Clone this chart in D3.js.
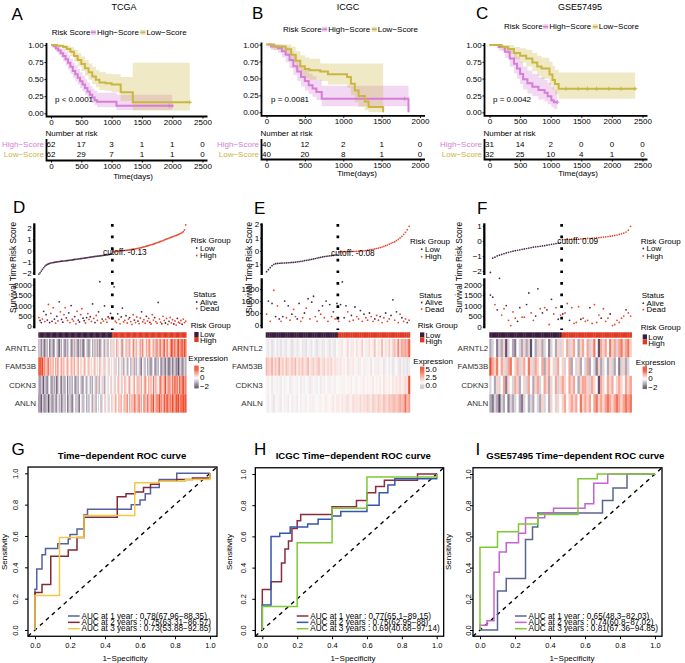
<!DOCTYPE html>
<html><head><meta charset="utf-8">
<script src="https://cdn.jsdelivr.net/npm/d3@7"></script>
<style>
html,body{margin:0;padding:0;background:#fff;}
svg{display:block;}
</style></head>
<body>
<svg id="fig" width="685" height="663" xmlns="http://www.w3.org/2000/svg"></svg>
<script>
// ======================= DATA =======================
// Kaplan-Meier: [time (days), survival, lower 95% CI, upper 95% CI]
const tcgaHighKM = [[0,1,1,1],[40,0.98,0.95,1],[80,0.95,0.9,1],[120,0.92,0.86,0.98],[160,0.88,0.81,0.95],[200,0.84,0.76,0.93],[240,0.79,0.7,0.89],[280,0.74,0.64,0.85],[320,0.68,0.58,0.8],[360,0.62,0.52,0.74],[400,0.57,0.47,0.7],[440,0.52,0.42,0.65],[480,0.47,0.37,0.6],[520,0.42,0.32,0.55],[560,0.37,0.27,0.5],[600,0.32,0.22,0.45],[640,0.27,0.18,0.4],[680,0.23,0.15,0.36],[720,0.19,0.12,0.33],[760,0.17,0.09,0.3],[1080,0.11,0.05,0.27],[2000,0.11,0.05,0.27]];
const tcgaLowKM = [[0,1,1,1],[100,0.99,0.97,1],[200,0.97,0.93,1],[260,0.94,0.89,0.99],[320,0.9,0.84,0.97],[380,0.84,0.76,0.93],[440,0.78,0.69,0.88],[500,0.72,0.62,0.83],[560,0.66,0.55,0.78],[620,0.6,0.49,0.73],[680,0.54,0.43,0.68],[740,0.49,0.38,0.63],[800,0.45,0.34,0.6],[900,0.44,0.33,0.58],[1000,0.42,0.31,0.57],[1150,0.31,0.18,0.53],[1350,0.16,0.04,0.74],[2290,0.16,0.04,0.74]];
const icgcHighKM = [[0,1,1,1],[60,0.97,0.92,1],[150,0.95,0.88,1],[200,0.9,0.81,0.99],[250,0.85,0.74,0.96],[300,0.77,0.65,0.9],[350,0.68,0.55,0.83],[400,0.6,0.46,0.76],[450,0.52,0.38,0.68],[500,0.46,0.32,0.63],[550,0.4,0.27,0.57],[600,0.35,0.23,0.53],[650,0.3,0.18,0.48],[720,0.2,0.09,0.39],[1850,0,0,0]];
const icgcLowKM = [[0,1,1,1],[100,0.97,0.92,1],[250,0.93,0.85,1],[320,0.85,0.74,0.97],[380,0.76,0.63,0.9],[440,0.68,0.54,0.84],[500,0.64,0.5,0.81],[560,0.62,0.48,0.79],[700,0.6,0.46,0.72],[800,0.56,0.41,0.72],[1050,0.52,0.36,0.72],[1100,0.42,0.25,0.72],[1150,0.32,0.15,0.72],[1200,0.24,0.08,0.72],[1280,0.16,0.03,0.72],[1330,0.08,0,0.72],[1520,0,0,0]];
const gseHighKM = [[0,1,1,1],[150,0.97,0.92,1],[250,0.9,0.81,0.99],[330,0.8,0.68,0.94],[400,0.72,0.58,0.88],[450,0.65,0.5,0.82],[500,0.57,0.42,0.75],[550,0.49,0.34,0.68],[620,0.43,0.28,0.62],[700,0.38,0.24,0.57],[800,0.33,0.19,0.52],[900,0.29,0.16,0.48],[950,0.24,0.12,0.44],[1010,0.18,0.08,0.38],[1050,0.15,0.05,0.33],[1107,0.15,0.05,0.33]];
const gseLowKM = [[0,1,1,1],[200,0.97,0.92,1],[300,0.94,0.87,1],[400,0.88,0.79,0.97],[500,0.84,0.74,0.95],[600,0.8,0.68,0.93],[700,0.74,0.61,0.88],[780,0.68,0.54,0.84],[850,0.65,0.5,0.81],[950,0.65,0.5,0.81],[980,0.56,0.41,0.75],[1030,0.48,0.33,0.69],[1070,0.42,0.27,0.63],[1130,0.35,0.2,0.59],[2380,0.35,0.2,0.59]];
// censor marks [time, survival]
const tcgaHighCensor = [[1950,0.11],[2000,0.11]];
const tcgaLowCensor = [[2290,0.16]];
const icgcHighCensor = [[1800,0.2]];
const icgcLowCensor = [];
const gseHighCensor = [[1107,0.15]];
const gseLowCensor = [[1250,0.35],[1450,0.35],[1600,0.35],[1750,0.35],[1950,0.35],[2150,0.35],[2380,0.35]];
// numbers at risk
const tcgaRiskTimes = [0,500,1000,1500,2000,2500];
const tcgaAtRiskHigh = [62,17,3,1,1,0];
const tcgaAtRiskLow = [62,29,7,1,1,0];
const icgcRiskTimes = [0,500,1000,1500,2000];
const icgcAtRiskHigh = [40,12,2,1,0];
const icgcAtRiskLow = [40,20,8,1,0];
const gseRiskTimes = [0,500,1000,1500,2000,2500];
const gseAtRiskHigh = [31,14,2,0,0,0];
const gseAtRiskLow = [32,25,10,4,1,0];
const kmYTicks = [0,0.25,0.5,0.75,1];
const pValues = ['p < 0.0001','p = 0.0081','p = 0.0042'];

// ---- Risk score plots (patients sorted by risk score) ----
const tcgaCutoff = -0.13, icgcCutoff = -0.08, gseCutoff = 0.09;
const tcgaScore = [
-2.12,-2.0,-1.85,-1.7,-1.55,-1.42,-1.32,-1.25,-1.2,-1.16,
-1.12,-1.1,-1.08,-1.06,-1.04,-1.02,-1.0,-0.99,-0.97,-0.96,
-0.95,-0.94,-0.92,-0.91,-0.9,-0.88,-0.87,-0.85,-0.84,-0.82,
-0.8,-0.79,-0.77,-0.76,-0.74,-0.73,-0.71,-0.7,-0.68,-0.66,
-0.65,-0.63,-0.61,-0.6,-0.58,-0.56,-0.55,-0.53,-0.52,-0.5,
-0.49,-0.48,-0.46,-0.45,-0.43,-0.42,-0.4,-0.39,-0.37,-0.35,
-0.33,-0.3,
-0.12,-0.1,-0.08,-0.07,-0.05,-0.04,-0.03,-0.02,-0.01,0.0,
0.01,0.02,0.03,0.05,0.06,0.08,0.1,0.12,0.14,0.16,
0.18,0.2,0.22,0.25,0.27,0.3,0.33,0.36,0.39,0.42,
0.45,0.48,0.52,0.55,0.58,0.62,0.66,0.7,0.74,0.78,
0.82,0.86,0.9,0.95,1.0,1.04,1.08,1.12,1.16,1.2,
1.24,1.28,1.32,1.36,1.4,1.45,1.5,1.55,1.62,1.7,
1.85,2.3];
const tcgaTime = [
420,280,180,350,720,230,560,300,1050,180,
620,240,900,350,150,480,260,1180,700,330,
200,560,900,410,280,650,180,1000,340,250,
470,120,720,300,210,560,850,390,270,160,
420,610,330,460,240,1080,380,180,520,290,
700,2150,160,350,250,980,330,200,450,380,
620,420,
380,1900,250,180,600,330,120,450,880,210,
290,510,160,350,420,230,90,560,300,180,
450,250,130,400,700,220,320,150,480,260,
380,190,110,560,300,420,230,150,1150,350,
200,120,480,280,160,380,90,240,430,170,
320,110,260,60,380,200,150,280,100,350,
180,250];
const tcgaStatus = [
1,0,0,1,0,1,0,0,1,0, 1,0,1,0,1,0,1,0,1,0, 0,1,1,0,1,0,1,0,1,1,
0,1,1,0,0,1,1,0,0,1, 0,1,1,0,1,0,1,0,1,1, 0,0,1,0,1,0,1,1,0,1, 0,1,
1,0,1,1,0,1,1,0,0,1, 1,0,1,1,0,1,1,1,0,1, 1,0,1,1,0,1,1,1,0,1,
1,0,1,1,1,0,1,1,0,1, 1,0,1,1,0,1,1,0,1,1, 1,0,1,1,0,1,1,1,0,1, 1,1];
const icgcScore = [
-1.55,-1.4,-1.25,-1.1,-1.0,-0.95,-0.93,-0.92,-0.91,-0.9,
-0.9,-0.89,-0.88,-0.87,-0.86,-0.85,-0.83,-0.81,-0.79,-0.77,
-0.75,-0.72,-0.7,-0.68,-0.65,-0.62,-0.59,-0.56,-0.53,-0.5,
-0.47,-0.44,-0.42,-0.4,-0.38,-0.36,-0.34,-0.32,-0.3,-0.28,
-0.07,-0.06,-0.06,-0.05,-0.05,-0.04,-0.04,-0.03,-0.03,-0.02,
-0.02,-0.01,0.0,0.01,0.02,0.04,0.06,0.08,0.1,0.13,
0.16,0.19,0.22,0.26,0.3,0.35,0.4,0.45,0.52,0.58,
0.64,0.7,0.78,0.88,0.98,1.1,1.25,1.4,1.6,1.85];
const icgcTime = [
450,1000,150,900,1450,350,800,250,150,350,
1000,300,800,200,450,650,350,250,900,150,
300,500,700,1100,250,950,1200,350,150,600,
450,800,300,1000,150,850,350,550,250,900,
150,850,1800,300,800,550,150,400,200,750,
350,250,600,150,450,300,200,500,350,150,
250,400,200,350,100,300,500,150,250,400,
1050,200,550,100,450,300,150,250,100,200];
const icgcStatus = [
1,0,1,0,1,0,1,0,1,0, 0,1,0,1,0,1,1,0,0,1, 1,0,1,0,1,0,0,1,1,0, 1,0,1,0,1,0,1,0,1,0,
1,0,0,0,0,1,1,0,1,0, 1,1,0,1,0,1,1,0,1,1, 0,1,1,0,1,1,0,1,1,0, 0,1,0,1,1,0,1,1,0,1];
const gseScore = [
-2.1,-1.15,-1.08,-1.0,-0.95,-0.9,-0.85,-0.8,-0.76,-0.72,
-0.68,-0.65,-0.62,-0.59,-0.56,-0.53,-0.5,-0.47,-0.44,-0.41,
-0.39,-0.37,-0.35,-0.33,-0.31,-0.28,-0.25,-0.22,-0.2,-0.17,
-0.14,-0.1,
0.1,0.1,0.11,0.11,0.12,0.12,0.13,0.13,0.14,0.15,
0.16,0.17,0.18,0.19,0.2,0.21,0.22,0.24,0.26,0.28,
0.3,0.32,0.34,0.37,0.4,0.44,0.48,0.53,0.6,0.72,
0.98];
const gseTime = [
1500,1400,1050,800,2300,550,850,1000,300,50,
700,400,250,900,450,450,1050,1600,650,300,
500,1800,850,650,900,800,100,1300,600,900,
350,550,
600,650,1100,300,900,150,200,950,350,400,
250,300,900,150,1050,200,550,400,850,250,
400,600,50,100,300,200,400,500,800,650,
500];
const gseStatus = [
0,0,1,0,0,1,1,0,1,1, 1,1,0,0,1,1,0,0,1,1, 0,0,1,0,1,0,1,0,1,1, 0,1,
0,1,1,0,1,1,1,1,0,1, 1,1,0,1,1,1,1,0,1,1, 1,0,1,1,1,1,1,1,0,1, 1];

// ---- Heatmaps (scaled expression) ----
const genes = ['ARNTL2','FAM53B','CDKN3','ANLN'];
const tcgaARNTL2 = [
-1,-0.5,-1.5,-0.5,-1,-2,-0.5,-1,0,-1.5, -1,-0.5,-1.5,-1,0,-0.5,-1,-2,-0.5,-1,
0,-1,-1.5,-0.5,-1,-0.5,0,-1.5,-1,-0.5, -1,0.5,-1,-1.5,-0.5,-1,-0.5,-2,-1,0,
-0.5,-1,-1.5,-0.5,0,-1,-0.5,-1,0.5,-1, -0.5,-1.5,-1,0,-0.5,-1,0.5,-0.5,-1,0, -0.5,0.5,
0.5,-0.5,0,1,-0.5,0.5,0,1,-1,0.5, 0,1,0.5,-0.5,1,0.5,0,1.5,-0.5,0.5,
1,0,0.5,1,-0.5,1.5,0.5,0,1,0.5, 1,1.5,0,0.5,1,-0.5,1,1.5,0.5,1,
1.5,0.5,1,2,0.5,1,1.5,0,1,2, 1.5,1,2,0.5,1.5,2,1,1.5,2,1, 2,1.5];
const tcgaFAM53B = [
2,2,1.5,2,1,1.5,0.5,1,1.5,0.5, 1,0.5,1,0,1,0.5,1.5,0,0.5,1,
0.5,1,0,0.5,1,0.5,0,1,0.5,0.5, 1,0,0.5,1,0,0.5,0.5,0,1,0.5,
0,0.5,1,0,0.5,0,0.5,1,0,0.5, 0,1,0.5,0,0.5,-0.5,0.5,0,0.5,-0.5, 0,0.5,
0,-0.5,0.5,-0.5,0,-1,0,-0.5,0.5,-1, -0.5,0,-1,-0.5,0,-1,-0.5,0.5,-1,-0.5,
-1,0,-0.5,-1,-1.5,0,-0.5,-1,0,-1, -0.5,-1,-1.5,-0.5,0,-1,-1.5,-0.5,-1,0,
-1,-1.5,-0.5,-1,-1.5,-0.5,-1,-2,-1,-0.5, -1.5,-1,-0.5,-1.5,-1,-2,-1,-0.5,-1.5,-1, -0.5,-1];
const tcgaCDKN3 = [
-1,-1.5,-0.5,-1,-2,-0.5,-1,-1.5,-0.5,0, -1,-1.5,-0.5,-1,-0.5,-2,-1,0,-1,-1.5,
-0.5,-1,-1,0,-1.5,-0.5,-1,-0.5,-1,0, -1,-1.5,-0.5,-1,0,-0.5,-1,-1.5,0,-0.5,
-1,-0.5,0,-1,-0.5,-1,0,-0.5,-1,0.5, -0.5,-1,0,-0.5,0.5,-1,-0.5,0,-0.5,0, 0.5,-0.5,
0,0.5,-0.5,0,0.5,1,0,-0.5,0.5,0, 1,0.5,0,-0.5,1,0.5,0,0.5,1,0,
0.5,1,-0.5,0.5,1,0,0.5,1.5,0.5,0, 1,0.5,1,0,1.5,0.5,1,0.5,0,1,
1.5,1,0.5,1,2,0.5,1,1.5,1,0.5, 1.5,1,2,1,1.5,0.5,2,1,1.5,2, 1,1.5];
const tcgaANLN = [
-1.5,-1,-2,-0.5,-1,-1.5,-1,-0.5,-2,-1, -0.5,-1.5,-1,-0.5,-1,-1.5,0,-1,-0.5,-1.5,
-1,-0.5,-1,0,-1.5,-1,-0.5,-1,-1.5,-0.5, 0,-1,-0.5,-1,-1.5,0,-0.5,-1,-0.5,0,
-1,-0.5,-1,0,-0.5,-1,0.5,-0.5,-1,0, -0.5,0,-1,-0.5,0,0.5,-0.5,0,-0.5,0.5, 0,-0.5,
0.5,0,1,0.5,0,1,0.5,1,0,0.5, 1,0.5,1.5,0,1,0.5,1,0.5,1.5,1,
0.5,1,1.5,0.5,1,0,1.5,1,0.5,1.5, 1,0.5,1.5,1,2,0.5,1,1.5,1,2,
1,1.5,0.5,2,1,1.5,2,1,1.5,1, 2,1.5,1,2,1.5,2,1,2,1.5,2, 1.5,2];
const icgcARNTL2 = [
0.8,0.6,0.9,0.5,0.7,1.0,0.6,0.8,0.5,0.9, 0.7,0.6,1.1,0.8,0.5,0.7,0.9,0.6,0.8,1.0,
0.6,0.7,0.5,0.9,0.8,0.6,1.0,0.7,0.5,0.8, 0.9,0.6,0.7,1.1,0.8,0.5,0.9,0.7,0.6,1.0,
1.2,0.8,1.5,1.0,0.9,1.8,1.1,0.7,1.4,1.0, 1.6,0.9,1.2,2.0,1.0,1.3,0.8,1.7,1.1,1.4,
2.2,1.0,1.5,1.2,2.5,1.1,1.6,1.3,2.0,1.2, 1.8,2.4,1.5,3.5,1.8,2.8,2.5,3.0,2.6,4.5];
const icgcFAM53B = [
2.5,2.0,1.8,2.6,1.5,2.2,1.7,2.8,1.6,2.0, 1.4,2.3,1.8,1.5,2.1,1.7,2.5,1.4,1.9,1.6,
2.2,1.5,1.8,2.4,1.3,1.7,2.0,1.5,1.8,2.2, 1.4,1.6,2.0,1.3,1.7,1.5,1.9,1.2,1.6,1.4,
1.2,1.5,0.9,1.3,1.0,1.6,0.8,1.2,1.4,0.9, 1.1,0.7,1.3,1.0,0.8,1.2,0.9,1.1,0.6,1.0,
0.8,1.2,0.7,0.9,1.1,0.6,0.8,1.0,0.7,0.9, 0.6,0.8,1.0,0.7,0.5,0.9,0.6,0.8,0.5,0.7];
const icgcCDKN3 = [
0.9,0.8,1.0,0.7,0.9,1.1,0.8,0.9,0.7,1.0, 0.8,0.9,1.0,0.7,0.8,1.1,0.9,0.8,1.0,0.7,
0.9,0.8,1.0,0.9,0.7,0.8,1.1,0.9,0.8,1.0, 0.7,0.9,0.8,1.0,0.9,0.8,1.1,0.9,0.8,1.0,
1.0,1.1,0.9,1.2,1.0,0.9,1.1,1.3,1.0,0.9, 1.2,1.0,1.1,0.9,1.3,1.0,1.2,1.1,0.9,1.4,
1.0,1.2,1.1,1.3,1.0,1.5,1.2,1.1,1.3,1.0, 1.4,1.2,1.5,1.3,1.6,1.2,1.4,1.8,1.5,5.0];
const icgcANLN = [
0.9,0.7,1.0,0.8,0.6,0.9,1.1,0.8,0.7,1.0, 0.8,0.9,0.7,1.0,0.8,1.2,0.9,0.7,1.0,0.8,
1.1,0.9,0.8,1.0,1.2,0.9,0.8,1.1,1.0,0.9, 1.2,1.0,0.9,1.3,1.1,1.0,1.2,1.4,1.1,1.3,
1.3,1.1,1.5,1.2,1.4,1.6,1.3,1.2,1.7,1.4, 1.5,1.3,1.8,1.4,1.6,1.5,1.9,1.6,1.4,2.0,
1.7,1.5,2.1,1.8,1.6,2.2,1.9,1.7,2.3,2.0, 2.2,2.5,2.0,2.4,2.8,2.3,2.6,4.2,2.5,3.0];
const gseARNTL2 = [
-1,-0.5,0,-1.5,-0.5,-1,0.5,-2,-0.5,0, -1,-1.5,0,-0.5,-1,0.5,-1,-0.5,-2,0,
-1,-0.5,0.5,-1,-0.5,0,-1.5,-0.5,0,-1, 0.5,-0.5,
0.5,0,1,-0.5,0.5,1,0,-1,0.5,1, 0,1,-0.5,0.5,1.5,0,-2,1,0.5,1,
0,1.5,0.5,1,-0.5,1,1.5,0.5,1,1.5, 0.5];
const gseFAM53B = [
2,1,0.5,1.5,0,1,0.5,-0.5,1,1.5, 0,0.5,1,-0.5,0.5,1,0,1.5,0.5,-0.5,
1,0.5,0,1,-1,0.5,1,0,0.5,-0.5, 1,0,
0.5,-0.5,0,1,-1,0,-0.5,0.5,-1,0, -0.5,1,-1,0,-0.5,-1.5,0.5,-1,-0.5,0,
-1,0.5,-0.5,-1,0,-1.5,-0.5,0.5,-1,-0.5, 0];
const gseCDKN3 = [
-0.5,0,-1,0.5,-0.5,0,1,-1.5,0.5,0, -0.5,1,0.5,-1,0,0.5,-0.5,1,0,-1,
0.5,1,-0.5,0,1,0.5,-1,0.5,0,1, -0.5,0.5,
1,0.5,0,1,0.5,1,0,-1,0.5,1, 1,0.5,-0.5,1,0.5,0,-2,1,0.5,0,
1,0.5,1,0,0.5,1,0.5,0,1,0.5, 1];
const gseANLN = [
-1,-1.5,-0.5,-1,-2,-0.5,-1,0,-1.5,-0.5, -1,-0.5,0,-1,-1.5,-0.5,0,-1,-0.5,-1,
0,-0.5,-1,0.5,-0.5,0,-1,0.5,0,-0.5, 0.5,0,
0.5,1,0,0.5,1,0.5,1,0,1.5,0.5, 1,0.5,1,0,1,1.5,0.5,1,0.5,1,
1.5,1,0.5,1,1.5,1,0.5,1,1.5,1, 1.5];

// ---- Time-dependent ROC curves: [1-specificity, sensitivity] ----
const rocYears = ['AUC at 1 year','AUC at 2 years','AUC at 3 years'];
const tcgaAUC = ['0.78(67.96−88.35)','0.75(63.31−86.57)','0.73(53.88−92.85)'];
const icgcAUC = ['0.77(65.1−89.15)','0.75(62.95−88)','0.69(40.68−97.14)'];
const gseAUC = ['0.65(48.3−82.03)','0.74(60.8−87.02)','0.81(67.36−94.85)'];
const tcgaRoc1 = [[0,0],[0,0.26],[0.01,0.39],[0.04,0.48],[0.06,0.52],[0.13,0.55],[0.19,0.58],[0.2,0.61],[0.24,0.645],[0.28,0.735],[0.3,0.77],[0.55,0.8],[0.6,0.83],[0.63,0.87],[0.66,0.91],[0.71,0.96],[0.81,1],[1,1]];
const tcgaRoc2 = [[0,0],[0,0.24],[0.04,0.29],[0.09,0.47],[0.19,0.51],[0.24,0.59],[0.28,0.72],[0.47,0.85],[0.52,0.87],[0.57,0.88],[0.62,0.91],[0.66,0.93],[0.71,0.95],[0.81,0.96],[0.9,0.97],[1,0.98],[1,1]];
const tcgaRoc3 = [[0,0],[0,0.22],[0.14,0.59],[0.28,0.73],[0.57,0.94],[0.71,0.95],[0.86,0.96],[1,0.97],[1,1]];
const icgcRoc1 = [[0,0],[0,0.26],[0.05,0.31],[0.11,0.43],[0.13,0.52],[0.15,0.57],[0.17,0.65],[0.2,0.7],[0.22,0.74],[0.4,0.79],[0.54,0.83],[0.6,0.88],[0.65,0.92],[0.7,0.96],[0.89,1],[1,1]];
const icgcRoc2 = [[0,0],[0,0.16],[0.05,0.6],[0.1,0.62],[0.16,0.66],[0.26,0.68],[0.32,0.71],[0.4,0.73],[0.45,0.76],[0.6,0.8],[0.67,0.88],[0.72,0.93],[0.76,0.97],[1,0.97],[1,1]];
const icgcRoc3 = [[0,0],[0,0.15],[0.2,0.56],[0.4,0.78],[0.6,0.98],[1,0.98],[1,1]];
const gseRoc1 = [[0,0],[0.1,0.25],[0.15,0.33],[0.26,0.58],[0.3,0.66],[0.33,0.75],[0.7,0.83],[0.76,0.91],[0.84,1],[1,1]];
const gseRoc2 = [[0,0],[0,0.03],[0.04,0.06],[0.08,0.37],[0.11,0.5],[0.15,0.56],[0.22,0.62],[0.26,0.72],[0.37,0.75],[0.42,0.78],[0.6,0.81],[0.65,0.94],[0.73,1],[1,1]];
const gseRoc3 = [[0,0],[0,0.53],[0.1,0.63],[0.22,0.68],[0.33,0.74],[0.56,0.97],[0.67,1],[1,1]];
const rocTicks = [0,0.2,0.4,0.6,0.8,1.0];

// ======================= DRAWING =======================
const FONT = '"Liberation Sans", Arial, Helvetica, sans-serif';
const svg = d3.select('#fig').attr('font-family', FONT);
const HIGH = '#D57ED6', LOW = '#C9B643';
const PLOW = '#4a2a4c', PHIGH = '#e5472d';
const BARLOW = '#3b1c3d', BARHIGH = '#e03a25';

function T(g, x, y, s, size, o = {}) {
  const t = g.append('text').attr('x', x).attr('y', y).text(s)
    .attr('font-size', size).attr('fill', o.fill || '#000')
    .attr('text-anchor', o.anchor || 'start')
    .attr('dominant-baseline', o.base || 'central');
  if (o.weight) t.attr('font-weight', o.weight);
  if (o.rot) t.attr('transform', `rotate(${o.rot},${x},${y})`);
  return t;
}
function styleAxis(ag, size) {
  ag.attr('font-family', FONT).attr('font-size', size);
  ag.select('.domain').remove();
  ag.selectAll('text').attr('fill', '#000');
}

// ---------- Kaplan-Meier panels ----------
function drawKM(c) {
  const g = svg.append('g');
  T(g, c.labelX, c.labelY, c.label, 17, {base: 'alphabetic'});
  T(g, c.titleX, 10, c.title, 9, {anchor: 'middle', base: 'alphabetic'});
  const x = d3.scaleLinear().domain([0, c.xMax]).range(c.xr);
  const y = d3.scaleLinear().domain([0, 1]).range(c.yr);
  // legend
  let lx = c.legendX; const ly = c.legendY;
  const addKey = (col) => {
    g.append('rect').attr('x', lx).attr('y', ly - 2.5).attr('width', 5).attr('height', 5)
      .attr('fill', col).attr('fill-opacity', 0.4);
    g.append('line').attr('x1', lx).attr('x2', lx + 5).attr('y1', ly).attr('y2', ly)
      .attr('stroke', col).attr('stroke-width', 1.6);
    lx += 6;
  };
  let t = T(g, lx, ly, 'Risk Score', 8); lx += t.node().getComputedTextLength() + 0.5;
  addKey(HIGH);
  t = T(g, lx, ly, 'High−Score', 8); lx += t.node().getComputedTextLength() + 1.5;
  addKey(LOW);
  T(g, lx, ly, 'Low−Score', 8);
  // ribbons
  const area = d3.area().curve(d3.curveStepAfter).x(p => x(p[0])).y0(p => y(p[2])).y1(p => y(p[3]));
  [[c.high, HIGH], [c.low, LOW]].forEach(([d, col]) => {
    g.append('path').attr('d', area(d)).attr('fill', col).attr('fill-opacity', 0.3);
  });
  const line = d3.line().curve(d3.curveStepAfter).x(p => x(p[0])).y(p => y(p[1]));
  [[c.high, HIGH, c.highC], [c.low, LOW, c.lowC]].forEach(([d, col, cens]) => {
    g.append('path').attr('d', line(d)).attr('fill', 'none').attr('stroke', col).attr('stroke-width', 2);
    cens.forEach(p => {
      g.append('path').attr('d', `M${x(p[0]) - 2},${y(p[1])}h4M${x(p[0])},${y(p[1]) - 2}v4`)
        .attr('stroke', col).attr('stroke-width', 1);
    });
  });
  // axes
  const yAx = g.append('g').attr('transform', `translate(${c.axX},0)`)
    .call(d3.axisLeft(y).tickValues(kmYTicks).tickFormat(d3.format('.2f')).tickSize(2).tickPadding(0.8));
  styleAxis(yAx, 8);
  const xAx = g.append('g').attr('transform', `translate(0,${c.axY})`)
    .call(d3.axisBottom(x).tickValues(c.ticks).tickFormat(d3.format('d')).tickSize(2).tickPadding(0.8));
  styleAxis(xAx, 8);
  const xEnd = x(c.xMax) + 5;
  g.append('path').attr('d', `M${c.axX},${c.yr[1] - 2}V${c.axY}H${xEnd}`)
    .attr('fill', 'none').attr('stroke', '#000').attr('stroke-width', 1.8);
  T(g, c.pX, 99, c.p, 8);
  // risk table
  T(g, c.axX - 1, 133, 'Number at risk', 8);
  [[c.atHigh, HIGH, 'High−Score', 144], [c.atLow, LOW, 'Low−Score', 154]].forEach(([vals, col, lab, ry]) => {
    T(g, c.axX - 2.5, ry, lab, 8, {anchor: 'end', fill: col});
    vals.forEach((v, i) => T(g, x(c.ticks[i]), ry, v, 8, {anchor: 'middle'}));
  });
  const tAx = g.append('g').attr('transform', `translate(0,${c.tAxY})`)
    .call(d3.axisBottom(x).tickValues(c.ticks).tickFormat(d3.format('d')).tickSize(2).tickPadding(1.2));
  styleAxis(tAx, 8);
  g.append('path').attr('d', `M${c.axX},139V${c.tAxY}H${xEnd}`)
    .attr('fill', 'none').attr('stroke', '#000').attr('stroke-width', 1.8);
  T(g, c.timeX, c.timeY, 'Time(days)', 8, {anchor: 'middle'});
}

drawKM({label: 'A', labelX: 11.5, labelY: 19.5, title: 'TCGA', titleX: 124, legendX: 51.7, legendY: 32.3,
  xMax: 2500, ticks: tcgaRiskTimes, xr: [51, 202.5], yr: [113.3, 45], axX: 46.5, axY: 116.5,
  high: tcgaHighKM, low: tcgaLowKM, highC: tcgaHighCensor, lowC: tcgaLowCensor, p: pValues[0], pX: 55,
  atHigh: tcgaAtRiskHigh, atLow: tcgaAtRiskLow, tAxY: 160.5, timeX: 133, timeY: 176.5});
drawKM({label: 'B', labelX: 252, labelY: 18.5, title: 'ICGC', titleX: 348, legendX: 283, legendY: 29.3,
  xMax: 2000, ticks: icgcRiskTimes, xr: [266.5, 420], yr: [112.3, 44.5], axX: 261.5, axY: 115.8,
  high: icgcHighKM, low: icgcLowKM, highC: icgcHighCensor, lowC: icgcLowCensor, p: pValues[1], pX: 271,
  atHigh: icgcAtRiskHigh, atLow: icgcAtRiskLow, tAxY: 159.5, timeX: 357, timeY: 173.5});
drawKM({label: 'C', labelX: 476, labelY: 18.5, title: 'GSE57495', titleX: 580, legendX: 504, legendY: 26.7,
  xMax: 2500, ticks: gseRiskTimes, xr: [489.5, 642.5], yr: [112.3, 45], axX: 484.5, axY: 115.8,
  high: gseHighKM, low: gseLowKM, highC: gseHighCensor, lowC: gseLowCensor, p: pValues[2], pX: 493,
  atHigh: gseAtRiskHigh, atLow: gseAtRiskLow, tAxY: 159.5, timeX: 578, timeY: 173.5});

// ---------- Risk score / survival / heatmap panels ----------
function drawRisk(c) {
  const g = svg.append('g');
  T(g, c.labelX, c.labelY, c.label, 17, {base: 'alphabetic'});
  const n = c.score.length;
  const xb = d3.scaleBand().domain(d3.range(n)).range([c.x0, c.x1]);
  const xc = i => xb(i) + xb.bandwidth() / 2;
  const isHigh = c.score.map(s => s > c.cutoff);
  const nLow = isHigh.filter(h => !h).length;
  const cutX = xb(nLow);
  const yR = d3.scaleLinear().domain(c.riskDom).range([275, 223.3]);
  const yS = d3.scaleLinear().domain(c.survDom).range([328.3, 278.3]);
  // risk score points
  g.selectAll(null).data(c.score).enter().append('circle')
    .attr('cx', (d, i) => xc(i)).attr('cy', d => yR(d)).attr('r', 0.85)
    .attr('fill', (d, i) => isHigh[i] ? PHIGH : PLOW);
  // survival time points
  g.selectAll(null).data(c.time).enter().append('circle')
    .attr('cx', (d, i) => xc(i)).attr('cy', d => yS(d)).attr('r', 0.9)
    .attr('fill', (d, i) => c.status[i] ? PHIGH : PLOW);
  // axes
  const rAx = g.append('g').attr('transform', `translate(${c.axX},0)`)
    .call(d3.axisLeft(yR).tickValues(c.riskTicks).tickFormat(d3.format('d')).tickSize(1.5).tickPadding(1));
  styleAxis(rAx, 8);
  const sAx = g.append('g').attr('transform', `translate(${c.axX},0)`)
    .call(d3.axisLeft(yS).tickValues([0, 500, 1000, 1500, 2000].filter(v => v <= c.survDom[1])).tickFormat(d3.format('d')).tickSize(1.5).tickPadding(1));
  styleAxis(sAx, 8);
  g.append('line').attr('x1', c.axX).attr('x2', c.axX).attr('y1', 223.3).attr('y2', 275)
    .attr('stroke', '#000').attr('stroke-width', 2.3);
  g.append('line').attr('x1', c.axX).attr('x2', c.axX).attr('y1', 278.3).attr('y2', 328.3)
    .attr('stroke', '#000').attr('stroke-width', 2.3);
  T(g, c.ylabX, 242, 'Risk Score', 8.3, {anchor: 'middle', rot: -90});
  T(g, c.ylabX, 288, 'Survival Time', 8.3, {anchor: 'middle', rot: -90});
  // heatmap
  const heatTop = 339, rowH = 18.4;
  c.heat.forEach((row, r) => {
    g.selectAll(null).data(row).enter().append('rect')
      .attr('x', (d, i) => xb(i)).attr('width', xb.bandwidth() + 0.25)
      .attr('y', heatTop + r * rowH).attr('height', rowH)
      .attr('fill', d => c.color(d));
    T(g, c.geneX, heatTop + r * rowH + rowH / 2, genes[r], 8, {anchor: 'end', fill: '#333'});
  });
  g.selectAll(null).data(isHigh).enter().append('rect')
    .attr('x', (d, i) => xb(i)).attr('width', xb.bandwidth() + 0.25)
    .attr('y', 332.3).attr('height', 5.4)
    .attr('fill', d => d ? BARHIGH : BARLOW);
  // cutoff line
  g.append('line').attr('x1', cutX).attr('x2', cutX).attr('y1', 224).attr('y2', 330)
    .attr('stroke', '#000').attr('stroke-width', 2.7).attr('stroke-dasharray', '2.7 8.9');
  T(g, c.cutTX, c.cutTY, c.cutText, 8.3);
  // legends
  const L = c.leg;
  T(g, L.rg1[0], L.rg1[1], 'Risk Group', 8);
  [['Low', PLOW], ['High', PHIGH]].forEach(([s, col], k) => {
    const yy = L.rg1[1] + 7.5 * (k + 1);
    g.append('circle').attr('cx', L.dotX).attr('cy', yy).attr('r', 0.9).attr('fill', col);
    T(g, L.dotX + 3.3, yy, s, 8);
  });
  T(g, L.st[0], L.st[1], 'Status', 8);
  [['Alive', PLOW], ['Dead', PHIGH]].forEach(([s, col], k) => {
    const yy = L.st[1] + 7.5 + 6.5 * k;
    g.append('circle').attr('cx', L.dotX).attr('cy', yy).attr('r', 0.9).attr('fill', col);
    T(g, L.dotX + 3.3, yy, s, 8);
  });
  T(g, L.rg2[0], L.rg2[1], 'Risk Group', 8);
  [['Low', BARLOW], ['High', BARHIGH]].forEach(([s, col], k) => {
    const yy = L.rg2[1] + 6.7 + 5 * k;
    g.append('rect').attr('x', L.sqX).attr('y', yy).attr('width', 4.3).attr('height', 5).attr('fill', col);
    T(g, L.sqX + 5.6, yy + 2.6 + k * 1, s, 8);
  });
  T(g, L.ex[0], L.ex[1], 'Expression', 8);
  const cb = d3.scaleLinear().domain(c.cbDom).range([L.cbY1, L.cbY0]);
  const steps = d3.range(40).map(k => c.cbDom[0] + (c.cbDom[1] - c.cbDom[0]) * k / 40);
  const st = (c.cbDom[1] - c.cbDom[0]) / 40;
  g.selectAll(null).data(steps).enter().append('rect')
    .attr('x', L.sqX).attr('width', 4.3)
    .attr('y', d => cb(d + st) - 0.1).attr('height', d => cb(d) - cb(d + st) + 0.2)
    .attr('fill', d => c.color(d + st / 2));
  c.cbTicks.forEach((v, k) => T(g, L.sqX + 5.6, cb(v), c.cbLabels[k], 8));
}

const divColor = d3.scaleLinear().domain([-2, 0, 2]).range(['#654f6b', '#ffffff', '#ee4a2c']).clamp(true);
const posColor = d3.scaleLinear().domain([0, 1, 5]).range(['#cfc6d3', '#fbf8f8', '#ee4a2c']).clamp(true);

drawRisk({label: 'D', labelX: 13, labelY: 212.5, x0: 38.3, x1: 186.3, axX: 34.3, ylabX: 13.3,
  score: tcgaScore, time: tcgaTime, status: tcgaStatus, cutoff: tcgaCutoff,
  heat: [tcgaARNTL2, tcgaFAM53B, tcgaCDKN3, tcgaANLN], color: divColor,
  riskDom: [-2.2, 2.45], riskTicks: [-2, -1, 0, 1, 2], survDom: [-96, 2313],
  geneX: 36, cutText: 'cutoff: -0.13', cutTX: 103, cutTY: 252.3,
  cbDom: [-2.4, 2.8], cbTicks: [2, 0, -2], cbLabels: ['2', '0', '−2'],
  leg: {rg1: [190.7, 240.5], st: [193.3, 294.5], rg2: [190.7, 325.3], ex: [188.3, 358.5], dotX: 196.7, sqX: 194.3, cbY0: 365.7, cbY1: 388.3}});
drawRisk({label: 'E', labelX: 254, labelY: 213.5, x0: 265.7, x1: 410, axX: 261.7, ylabX: 249.3,
  score: icgcScore, time: icgcTime, status: icgcStatus, cutoff: icgcCutoff,
  heat: [icgcARNTL2, icgcFAM53B, icgcCDKN3, icgcANLN], color: posColor,
  riskDom: [-1.8, 2.08], riskTicks: [-1, 0, 1, 2], survDom: [-140, 1950],
  geneX: 262.7, cutText: 'cutoff: -0.08', cutTX: 331, cutTY: 253.3,
  cbDom: [-0.9, 5.7], cbTicks: [5, 2.5, 0], cbLabels: ['5.0', '2.5', '0.0'],
  leg: {rg1: [410, 241.7], st: [419, 295], rg2: [417.7, 325.7], ex: [413.3, 361.7], dotX: 421.7, sqX: 420, cbY0: 366.7, cbY1: 389}});
drawRisk({label: 'F', labelX: 477, labelY: 213.5, x0: 489.3, x1: 631.7, axX: 484.3, ylabX: 459.3,
  score: gseScore, time: gseTime, status: gseStatus, cutoff: gseCutoff,
  heat: [gseARNTL2, gseFAM53B, gseCDKN3, gseANLN], color: divColor,
  riskDom: [-2.27, 1.18], riskTicks: [-2, -1, 0, 1], survDom: [-80, 2300],
  geneX: 488.3, cutText: 'cutoff: 0.09', cutTX: 557.3, cutTY: 240.7,
  cbDom: [-2.4, 2.8], cbTicks: [2, 0, -2], cbLabels: ['2', '0', '−2'],
  leg: {rg1: [640.7, 241], st: [641.7, 295.7], rg2: [640.7, 327.7], ex: [635.7, 362.3], dotX: 643.3, sqX: 642.7, cbY0: 366.7, cbY1: 389}});

// ---------- ROC panels ----------
function drawROC(c) {
  const g = svg.append('g');
  T(g, c.labelX, 455, c.label, 17, {base: 'alphabetic'});
  T(g, c.titleX, 455, c.title, 9.6, {anchor: 'middle', weight: 'bold'});
  const x = d3.scaleLinear().domain([0, 1]).range(c.xr);
  const y = d3.scaleLinear().domain([0, 1]).range(c.yr);
  const bx0 = x(-0.04), bx1 = x(1.04), by0 = y(-0.04), by1 = y(1.04);
  g.append('line').attr('x1', bx0).attr('y1', by0).attr('x2', bx1).attr('y2', by1)
    .attr('stroke', '#000').attr('stroke-width', 1.4).attr('stroke-dasharray', '4 4');
  const line = d3.line().curve(d3.curveStepAfter).x(p => x(p[0])).y(p => y(p[1]));
  c.curves.forEach((d, k) => {
    g.append('path').attr('d', line(d)).attr('fill', 'none').attr('stroke', c.colors[k]).attr('stroke-width', 1.5);
  });
  g.append('rect').attr('x', bx0).attr('y', by1).attr('width', bx1 - bx0).attr('height', by0 - by1)
    .attr('fill', 'none').attr('stroke', '#000').attr('stroke-width', 1.3);
  const xAx = g.append('g').attr('transform', `translate(0,${by0})`)
    .call(d3.axisBottom(x).tickValues(rocTicks).tickFormat(d3.format('.1f')).tickSize(3).tickPadding(3.2));
  styleAxis(xAx, 7.5);
  const yAx = g.append('g').attr('transform', `translate(${bx0},0)`)
    .call(d3.axisLeft(y).tickValues(rocTicks).tickFormat(d3.format('.1f')).tickSize(3));
  styleAxis(yAx, 7.5);
  yAx.selectAll('text').attr('x', 0).attr('y', -(bx0 - c.ylabX)).attr('dy', null)
    .attr('text-anchor', 'middle').attr('dominant-baseline', 'central').attr('transform', 'rotate(-90)');
  T(g, c.specX, 658.3, '1−Specificity', 8, {anchor: 'middle'});
  T(g, c.sensX, 552, 'Sensitivity', 8, {anchor: 'middle', rot: -90});
  c.labels.forEach((s, k) => {
    const yy = 616 + 6.35 * k;
    g.append('line').attr('x1', c.legX).attr('x2', c.legX + 11.7).attr('y1', yy).attr('y2', yy)
      .attr('stroke', c.colors[k]).attr('stroke-width', 1.5);
    T(g, c.legX + 13.5, yy, `${rocYears[k]} : ${s}`, 8.2);
  });
}
drawROC({label: 'G', labelX: 11.5, title: 'Time−dependent ROC curve', titleX: 122,
  xr: [35, 210], yr: [630, 473.3], ylabX: 15, sensX: 4, specX: 125,
  curves: [tcgaRoc1, tcgaRoc2, tcgaRoc3], colors: ['#55619e', '#80293b', '#f3c846'],
  labels: tcgaAUC, legX: 68});
drawROC({label: 'H', labelX: 254, title: 'ICGC Time−dependent ROC curve', titleX: 353.3,
  xr: [262.3, 436.7], yr: [630, 474], ylabX: 243.3, sensX: 229, specX: 353,
  curves: [icgcRoc1, icgcRoc2, icgcRoc3], colors: ['#8a2c40', '#3656ad', '#7fc934'],
  labels: icgcAUC, legX: 296.7});
drawROC({label: 'I', labelX: 475.5, title: 'GSE57495 Time−dependent ROC curve', titleX: 575.3,
  xr: [480, 655], yr: [630, 474], ylabX: 468.3, sensX: 448.3, specX: 572,
  curves: [gseRoc1, gseRoc2, gseRoc3], colors: ['#5a6690', '#c563d3', '#7fc934'],
  labels: gseAUC, legX: 515});
</script>
</body></html>
